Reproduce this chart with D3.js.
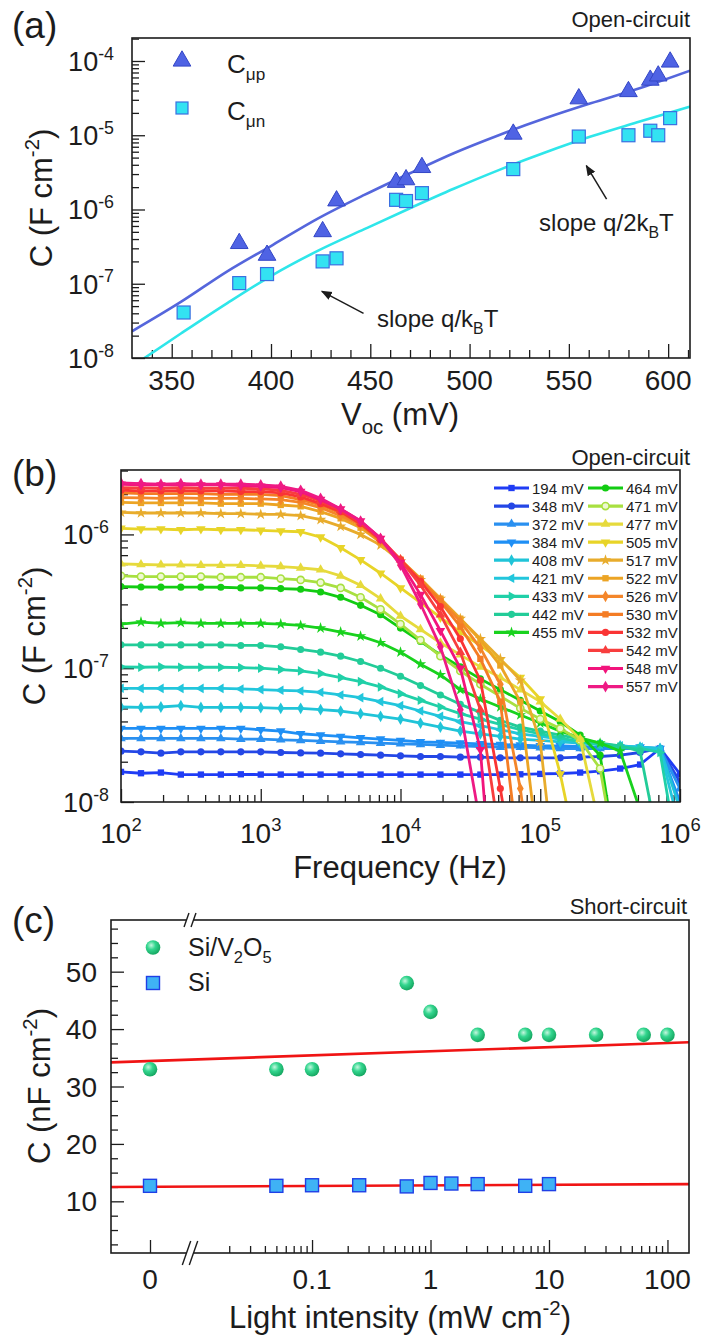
<!DOCTYPE html>
<html>
<head>
<meta charset="utf-8">
<script src="https://cdn.jsdelivr.net/npm/d3@7"></script>
<style>
  body { margin: 0; background: #fff; }
  svg { display: block; }
  text { font-family: "Liberation Sans", Arial, Helvetica, sans-serif; }
</style>
</head>
<body>
<svg id="fig" width="706" height="1340"></svg>
<script>
// ---------- panel (a): capacitance vs Voc ----------
const vocP = [384, 398, 426, 433, 463, 468, 476, 522, 555, 580, 591, 595, 601];
const capP = [3.6e-7, 2.5e-7, 5.2e-7, 1.35e-6, 2.4e-6, 2.6e-6, 3.8e-6, 1.07e-5, 3.2e-5, 4.0e-5, 5.7e-5, 6.5e-5, 1.0e-4];
const vocN = [356, 384, 398, 426, 433, 463, 468, 476, 522, 555, 580, 591, 595, 601];
const capN = [4.1e-8, 1.02e-7, 1.35e-7, 2.0e-7, 2.2e-7, 1.35e-6, 1.3e-6, 1.66e-6, 3.5e-6, 9.6e-6, 1.0e-5, 1.15e-5, 1.0e-5, 1.7e-5];
const fitVoc = [330, 355, 378, 401, 424, 447, 470, 492, 515, 538, 561, 584, 611];
const fitP = [2.29e-8, 5.78e-8, 1.47e-7, 3.35e-7, 7.64e-7, 1.57e-6, 3.08e-6, 5.73e-6, 1.01e-5, 1.69e-5, 2.69e-5, 4.16e-5, 7.41e-5];
const fitN = [7.7e-9, 2.17e-8, 5.49e-8, 1.32e-7, 2.81e-7, 5.43e-7, 1.04e-6, 1.90e-6, 3.42e-6, 5.85e-6, 9.59e-6, 1.48e-5, 2.43e-5];
const vocTicks = [350, 400, 450, 500, 550, 600];
const capTicksA = [-8, -7, -6, -5, -4];

// ---------- panel (b): capacitance spectra ----------
const freq = [100, 139, 193, 268, 373, 518, 720, 1000, 1390, 1930, 2680, 3730, 5180, 7200,
  10000, 13900, 19300, 26800, 37300, 51800, 72000, 100000, 139000, 193000, 268000, 373000,
  518000, 720000, 1000000];
const voltages = [194, 348, 372, 384, 408, 421, 433, 442, 455, 464, 471, 477, 505, 517, 522, 526, 530, 532, 542, 548, 557];
const colors = ["#1f3cf5", "#2447e6", "#2a90f0", "#1f8ff5", "#20c4d8", "#22c6dc", "#20d0a8", "#22cc98",
  "#19d21e", "#12cc12", "#a8e040", "#e6da3c", "#e8d428", "#e8ac2c", "#eca424", "#f4862a", "#f47c24",
  "#fa3434", "#f83e3e", "#f2147c", "#ee1a84"];
const shapes = ["square", "circle", "up", "down", "diamond", "left", "right", "circle", "star",
  "circle", "half", "up", "down", "star", "square", "diamond", "square", "circle", "up", "down", "diamond"];
// log10 of C (F cm-2) read at each frequency
const logCap = [
  [-7.775, -7.785, -7.78, -7.795, -7.795, -7.795, -7.793,
   -7.795, -7.795, -7.795, -7.795, -7.795, -7.795, -7.795,
   -7.795, -7.795, -7.795, -7.795, -7.795, -7.795, -7.793,
   -7.79, -7.787, -7.78, -7.77, -7.75, -7.72, -7.6,
   -7.79],
  [-7.62, -7.625, -7.635, -7.625, -7.625, -7.625, -7.625,
   -7.625, -7.63, -7.633, -7.635, -7.64, -7.645, -7.65,
   -7.655, -7.66, -7.66, -7.665, -7.665, -7.67, -7.67,
   -7.67, -7.67, -7.665, -7.66, -7.65, -7.63, -7.6,
   -7.85],
  [-7.525, -7.525, -7.525, -7.525, -7.525, -7.525, -7.53,
   -7.53, -7.535, -7.54, -7.545, -7.55, -7.555, -7.56,
   -7.565, -7.57, -7.575, -7.58, -7.585, -7.59, -7.59,
   -7.595, -7.6, -7.6, -7.6, -7.6, -7.6, -7.6,
   -7.9],
  [-7.45, -7.45, -7.45, -7.45, -7.45, -7.45, -7.45,
   -7.46, -7.47, -7.49, -7.5, -7.51, -7.52, -7.53,
   -7.54, -7.55, -7.555, -7.56, -7.565, -7.57, -7.575,
   -7.58, -7.58, -7.585, -7.59, -7.59, -7.59, -7.6,
   -8.0],
  [-7.29, -7.293, -7.29, -7.28, -7.293, -7.293, -7.293,
   -7.295, -7.3, -7.3, -7.31, -7.32, -7.34, -7.36,
   -7.38, -7.41, -7.44, -7.47, -7.49, -7.51, -7.53,
   -7.54, -7.55, -7.56, -7.57, -7.58, -7.59, -7.6,
   -8.05],
  [-7.15, -7.151, -7.151, -7.151, -7.151, -7.151, -7.155,
   -7.16, -7.165, -7.17, -7.18, -7.2, -7.22, -7.25,
   -7.28, -7.32, -7.36, -7.4, -7.43, -7.46, -7.49,
   -7.51, -7.53, -7.55, -7.57, -7.58, -7.59, -7.61,
   -8.2],
  [-6.99, -6.993, -6.99, -6.993, -6.993, -6.993, -6.995,
   -7.0, -7.01, -7.02, -7.04, -7.07, -7.1, -7.14,
   -7.19, -7.24, -7.29, -7.34, -7.38, -7.42, -7.46,
   -7.49, -7.52, -7.55, -7.57, -7.59, -7.6, -7.63,
   -8.5],
  [-6.825, -6.826, -6.826, -6.826, -6.826, -6.826, -6.83,
   -6.83, -6.84, -6.86, -6.88, -6.91, -6.95, -7.0,
   -7.06, -7.13, -7.2, -7.27, -7.33, -7.39, -7.44,
   -7.47, -7.5, -7.53, -7.56, -7.58, -7.62, -8.38],
  [-6.67, -6.655, -6.665, -6.66, -6.665, -6.665, -6.665,
   -6.665, -6.67, -6.68, -6.7, -6.73, -6.76, -6.81,
   -6.88, -6.97, -7.05, -7.16, -7.23, -7.29, -7.35,
   -7.41, -7.47, -7.52, -7.56, -7.62, -8.06],
  [-6.39, -6.393, -6.394, -6.394, -6.394, -6.395, -6.4,
   -6.4, -6.405, -6.41, -6.43, -6.47, -6.53, -6.6,
   -6.7, -6.8, -6.9, -6.99, -7.08, -7.16, -7.24,
   -7.32, -7.4, -7.5, -7.65, -8.6],
  [-6.31, -6.315, -6.315, -6.315, -6.315, -6.32, -6.32,
   -6.32, -6.33, -6.34, -6.36, -6.4, -6.47, -6.56,
   -6.67, -6.79, -6.91, -7.02, -7.12, -7.21, -7.3,
   -7.38, -7.45, -7.54, -7.75, -8.6],
  [-6.22, -6.225, -6.227, -6.227, -6.23, -6.23, -6.23,
   -6.235, -6.24, -6.25, -6.264, -6.31, -6.38, -6.48,
   -6.61, -6.71, -6.81, -6.9, -6.99, -7.07, -7.16,
   -7.25, -7.38, -7.53, -8.2],
  [-5.955, -5.96, -5.96, -5.965, -5.96, -5.965, -5.965,
   -5.97, -5.975, -5.98, -6.02, -6.1, -6.19, -6.29,
   -6.4, -6.51, -6.62, -6.73, -6.83, -6.94, -7.07,
   -7.23, -7.79, -8.5],
  [-5.835, -5.84, -5.84, -5.84, -5.84, -5.845, -5.845,
   -5.85, -5.85, -5.86, -5.89, -5.94, -6.0, -6.08,
   -6.2, -6.34, -6.48, -6.63, -6.78, -6.93, -7.09,
   -7.55, -8.9],
  [-5.76, -5.765, -5.765, -5.765, -5.765, -5.77, -5.77,
   -5.77, -5.78, -5.79, -5.83, -5.88, -5.95, -6.06,
   -6.19, -6.33, -6.48, -6.63, -6.79, -6.98, -7.25,
   -8.5],
  [-5.725, -5.727, -5.73, -5.727, -5.73, -5.73, -5.73,
   -5.735, -5.74, -5.76, -5.8, -5.86, -5.93, -6.05,
   -6.19, -6.34, -6.49, -6.65, -6.85, -7.12, -7.9,
   -9.0],
  [-5.69, -5.695, -5.695, -5.695, -5.695, -5.7, -5.7,
   -5.7, -5.71, -5.74, -5.78, -5.84, -5.92, -6.05,
   -6.19, -6.34, -6.5, -6.69, -6.93, -7.25, -8.5],
  [-5.67, -5.675, -5.675, -5.673, -5.675, -5.675, -5.68,
   -5.68, -5.69, -5.72, -5.77, -5.83, -5.92, -6.04,
   -6.19, -6.35, -6.54, -6.78, -7.09, -7.9, -8.8],
  [-5.65, -5.652, -5.655, -5.65, -5.655, -5.655, -5.655,
   -5.66, -5.67, -5.7, -5.75, -5.82, -5.91, -6.03,
   -6.19, -6.38, -6.6, -6.88, -7.31, -8.3],
  [-5.625, -5.63, -5.63, -5.63, -5.63, -5.63, -5.635,
   -5.64, -5.65, -5.68, -5.74, -5.81, -5.9, -6.03,
   -6.21, -6.45, -6.72, -7.0, -7.61, -9.5],
  [-5.615, -5.62, -5.625, -5.62, -5.625, -5.625, -5.625,
   -5.63, -5.64, -5.67, -5.73, -5.81, -5.9, -6.03,
   -6.23, -6.52, -6.84, -7.31, -8.17]
];
const freqTicks = [2, 3, 4, 5, 6];
const capTicksB = [-8, -7, -6];

// ---------- panel (c): short-circuit capacitance ----------
const lightV2O5 = [0, 0.05, 0.1, 0.25, 0.63, 1, 2.5, 6.3, 10, 25, 63, 100];
const capV2O5 = [33, 33, 33, 33, 48, 43, 39, 39, 39, 39, 39, 39];
const lightSi = [0, 0.05, 0.1, 0.25, 0.63, 1, 1.5, 2.5, 6.3, 10];
const capSi = [12.7, 12.7, 12.8, 12.8, 12.6, 13.2, 13.1, 13.0, 12.7, 13.0];
const fitV2O5 = [34.2, 37.7];   // fit value at left and right edge
const fitSi = [12.5, 13.0];
const lightTicks = [0.1, 1, 10, 100];
const lightLabels = ["0.1", "1", "10", "100"];
const capTicksC = [10, 20, 30, 40, 50];

// ---------------------------------------------------------
const ink = "#1c1c1c";
const svg = d3.select("#fig");
const defs = svg.append("defs");

function rich(g, x, y, size, parts, anchor, rot) {
  const t = g.append("text")
    .attr("x", x).attr("y", y)
    .attr("font-size", size)
    .attr("text-anchor", anchor || "start")
    .attr("fill", ink);
  if (rot) t.attr("transform", `rotate(${rot},${x},${y})`);
  let cur = 0;
  parts.forEach(([s, kind]) => {
    const off = kind === "sup" ? -0.42 * size : kind === "sub" ? 0.28 * size : 0;
    t.append("tspan")
      .attr("dy", off - cur)
      .attr("font-size", kind ? size * 0.66 : size)
      .text(s);
    cur = off;
  });
  return t;
}

function ticksBottom(g, scale, y, values, len) {
  g.append("g")
    .attr("transform", `translate(0,${y})`)
    .call(d3.axisBottom(scale).tickValues(values).tickSize(-len).tickFormat(""))
    .call((s) => s.select(".domain").remove())
    .selectAll("line").attr("stroke", ink).attr("stroke-width", 1.3);
}

function ticksLeft(g, scale, x, values, len) {
  g.append("g")
    .attr("transform", `translate(${x},0)`)
    .call(d3.axisLeft(scale).tickValues(values).tickSize(-len).tickFormat(""))
    .call((s) => s.select(".domain").remove())
    .selectAll("line").attr("stroke", ink).attr("stroke-width", 1.3);
}

function frame(g, x, y) {
  g.append("rect")
    .attr("x", x.range()[0]).attr("y", y.range()[1])
    .attr("width", x.range()[1] - x.range()[0])
    .attr("height", y.range()[0] - y.range()[1])
    .attr("fill", "none").attr("stroke", ink).attr("stroke-width", 1.6);
}

function clip(id, x0, x1, y0, y1) {
  defs.append("clipPath").attr("id", id)
    .append("rect").attr("x", x0).attr("y", y0).attr("width", x1 - x0).attr("height", y1 - y0);
}

function logMinors(lo, hi) {
  const out = [];
  for (let e = Math.floor(Math.log10(lo)); e <= Math.ceil(Math.log10(hi)); e++) {
    for (let m = 2; m <= 9; m++) {
      const v = m * Math.pow(10, e);
      if (v >= lo && v <= hi) out.push(v);
    }
  }
  return out;
}

defs.append("marker").attr("id", "arrowHead")
  .attr("viewBox", "0 0 10 10").attr("refX", 9).attr("refY", 5)
  .attr("markerWidth", 11).attr("markerHeight", 11)
  .attr("markerUnits", "userSpaceOnUse").attr("orient", "auto")
  .append("path").attr("d", "M0,1 L10,5 L0,9 Z").attr("fill", ink);

const sphere = defs.append("radialGradient").attr("id", "sphere")
  .attr("cx", "38%").attr("cy", "35%").attr("r", "65%");
sphere.append("stop").attr("offset", "0%").attr("stop-color", "#c4f7de");
sphere.append("stop").attr("offset", "45%").attr("stop-color", "#34d68f");
sphere.append("stop").attr("offset", "100%").attr("stop-color", "#16a862");

// ================= (a) =================
const ax = d3.scaleLinear().domain([330, 611]).range([132, 690]);
const ay = d3.scaleLog().domain([1e-8, 2.04e-4]).range([358, 38]);
const ga = svg.append("g");
clip("clipA", 132, 690, 38, 358);

ticksBottom(ga, ax, 358, d3.range(340, 611, 10).filter((v) => v % 50 !== 0), 8);
ticksBottom(ga, ax, 358, vocTicks, 14);
ticksLeft(ga, ay, 132, logMinors(1e-8, 2.04e-4), 7);
ticksLeft(ga, ay, 132, capTicksA.map((e) => Math.pow(10, e)), 13);

const plotA = ga.append("g").attr("clip-path", "url(#clipA)");
const fitLine = d3.line().x((d) => ax(d[0])).y((d) => ay(d[1])).curve(d3.curveMonotoneX);
plotA.append("path").datum(d3.zip(fitVoc, fitP)).attr("d", fitLine)
  .attr("fill", "none").attr("stroke", "#5566dc").attr("stroke-width", 2.6);
plotA.append("path").datum(d3.zip(fitVoc, fitN)).attr("d", fitLine)
  .attr("fill", "none").attr("stroke", "#2ee6ea").attr("stroke-width", 2.6);

const triSym = d3.symbol().type(d3.symbolTriangle).size(135);
plotA.selectAll(".tp").data(d3.zip(vocP, capP)).join("path")
  .attr("transform", (d) => `translate(${ax(d[0])},${ay(d[1]) + 1})`)
  .attr("d", triSym).attr("fill", "#4f63e4").attr("stroke", "#3346c6").attr("stroke-width", 1);
plotA.selectAll(".sn").data(d3.zip(vocN, capN)).join("rect")
  .attr("x", (d) => ax(d[0]) - 6.5).attr("y", (d) => ay(d[1]) - 6.5)
  .attr("width", 13).attr("height", 13)
  .attr("fill", "#33e2f2").attr("stroke", "#3a6fe0").attr("stroke-width", 1.2);

// legend (a)
ga.append("path").attr("transform", "translate(182,61)").attr("d", triSym)
  .attr("fill", "#4f63e4").attr("stroke", "#3346c6").attr("stroke-width", 1);
ga.append("rect").attr("x", 176).attr("y", 102).attr("width", 12).attr("height", 12)
  .attr("fill", "#33e2f2").attr("stroke", "#3a6fe0").attr("stroke-width", 1.2);
rich(ga, 227, 73, 26, [["C"], ["\u03bcp", "sub"]]);
rich(ga, 227, 120, 26, [["C"], ["\u03bcn", "sub"]]);

// slope annotations
ga.append("line")
  .attr("x1", ax(446.6)).attr("y1", ay(4.0e-8)).attr("x2", ax(425.6)).attr("y2", ay(7.9e-8))
  .attr("stroke", ink).attr("stroke-width", 1.5).attr("marker-end", "url(#arrowHead)");
ga.append("line")
  .attr("x1", ax(569)).attr("y1", ay(1.38e-6)).attr("x2", ax(558.8)).attr("y2", ay(3.9e-6))
  .attr("stroke", ink).attr("stroke-width", 1.5).attr("marker-end", "url(#arrowHead)");
rich(ga, ax(453.4), ay(2.6e-8), 24, [["slope q/k"], ["B", "sub"], ["T"]]);
rich(ga, ax(535), ay(5.1e-7), 24, [["slope q/2k"], ["B", "sub"], ["T"]]);

frame(ga, ax, ay);
vocTicks.forEach((v) => rich(ga, ax(v), 390, 28, [[String(v)]], "middle"));
capTicksA.forEach((e) => rich(ga, 114, ay(Math.pow(10, e)) + 10, 27, [["10"], [String(e), "sup"]], "end"));
rich(ga, 400, 425, 31, [["V"], ["oc", "sub"], [" (mV)"]], "middle");
rich(ga, 52, 198, 31, [["C (F cm"], ["-2", "sup"], [")"]], "middle", -90);
rich(ga, 12, 38, 37, [["(a)"]]);
rich(ga, 690, 27, 22, [["Open-circuit"]], "end");

// ================= (b) =================
const bx = d3.scaleLog().domain([100, 1e6]).range([121, 680]);
const by = d3.scaleLog().domain([1e-8, 3.03e-6]).range([802, 470]);
const gb = svg.append("g");
clip("clipB", 121, 680, 470, 802);

ticksBottom(gb, bx, 802, logMinors(100, 1e6), 7);
ticksBottom(gb, bx, 802, freqTicks.map((e) => Math.pow(10, e)), 13);
ticksLeft(gb, by, 121, logMinors(1e-8, 3.03e-6), 7);
ticksLeft(gb, by, 121, capTicksB.map((e) => Math.pow(10, e)), 13);

function shapePath(kind, size) {
  const sym = {
    square: d3.symbolSquare, circle: d3.symbolCircle, half: d3.symbolCircle,
    up: d3.symbolTriangle, down: d3.symbolTriangle, left: d3.symbolTriangle,
    right: d3.symbolTriangle, diamond: d3.symbolDiamond, star: d3.symbolStar
  }[kind];
  return d3.symbol().type(sym).size(size)();
}
const rot = { down: 180, left: -90, right: 90 };

function drawMarker(g, kind, color, x, y, size) {
  const p = g.append("path")
    .attr("d", shapePath(kind, size))
    .attr("transform", `translate(${x},${y}) rotate(${rot[kind] || 0})`);
  if (kind === "half") {
    p.attr("fill", "#eef8d2").attr("stroke", color).attr("stroke-width", 1.6);
  } else {
    p.attr("fill", color);
  }
}

const plotB = gb.append("g").attr("clip-path", "url(#clipB)");
const specLine = d3.line().x((d) => bx(d[0])).y((d) => by(Math.pow(10, d[1])));
voltages.forEach((v, i) => {
  const pts = d3.zip(freq.slice(0, logCap[i].length), logCap[i]);
  plotB.append("path").datum(pts).attr("d", specLine)
    .attr("fill", "none").attr("stroke", colors[i]).attr("stroke-width", 2.8)
    .attr("stroke-linejoin", "round");
  pts.forEach((d) => drawMarker(plotB, shapes[i], colors[i], bx(d[0]), by(Math.pow(10, d[1])), 40));
});

// legend (b)
voltages.forEach((v, i) => {
  const col = i < 9 ? 0 : 1;
  const row = col === 0 ? i : i - 9;
  const x0 = col === 0 ? 494 : 588;
  const y0 = 488 + row * 18.05;
  gb.append("line").attr("x1", x0).attr("x2", x0 + 35).attr("y1", y0).attr("y2", y0)
    .attr("stroke", colors[i]).attr("stroke-width", 3.2);
  drawMarker(gb, shapes[i], colors[i], x0 + 17.5, y0, 40);
  rich(gb, x0 + 38, y0 + 5.5, 15, [[v + " mV"]]);
});

frame(gb, bx, by);
freqTicks.forEach((e) => rich(gb, bx(Math.pow(10, e)), 843, 28, [["10"], [String(e), "sup"]], "middle"));
capTicksB.forEach((e) => rich(gb, 109, by(Math.pow(10, e)) + 10, 27, [["10"], [String(e), "sup"]], "end"));
rich(gb, 400, 878, 31, [["Frequency (Hz)"]], "middle");
rich(gb, 45, 636, 31, [["C (F cm"], ["-2", "sup"], [")"]], "middle", -90);
rich(gb, 12, 486, 37, [["(b)"]]);
rich(gb, 690, 465, 22, [["Open-circuit"]], "end");

// ================= (c) =================
const cxZero = d3.scaleLinear().domain([-1, 1]).range([111, 189]);
const cxLog = d3.scaleLog().domain([0.00933, 152]).range([190, 689]);
const cx = (v) => (v === 0 ? cxZero(0) : cxLog(v));
const cy = d3.scaleLinear().domain([1, 59]).range([1253, 920]);
const gc = svg.append("g");
clip("clipC", 111, 689, 920, 1253);

ticksBottom(gc, cxLog, 1253, logMinors(0.02, 100), 7);
ticksBottom(gc, cxLog, 1253, lightTicks, 13);
ticksBottom(gc, cxZero, 1253, [0], 13);
ticksLeft(gc, cy, 111, d3.range(2.5, 59, 2.5).filter((v) => v % 10 !== 0), 7);
ticksLeft(gc, cy, 111, capTicksC, 13);

const plotC = gc.append("g").attr("clip-path", "url(#clipC)");
[fitV2O5, fitSi].forEach((f) => {
  plotC.append("line")
    .attr("x1", 111).attr("x2", 689)
    .attr("y1", cy(f[0])).attr("y2", cy(f[1]))
    .attr("stroke", "#f01414").attr("stroke-width", 2.6);
});
plotC.selectAll(".v2o5").data(d3.zip(lightV2O5, capV2O5)).join("circle")
  .attr("cx", (d) => cx(d[0])).attr("cy", (d) => cy(d[1])).attr("r", 7.3)
  .attr("fill", "url(#sphere)");
plotC.selectAll(".si").data(d3.zip(lightSi, capSi)).join("rect")
  .attr("x", (d) => cx(d[0]) - 6.5).attr("y", (d) => cy(d[1]) - 6.5)
  .attr("width", 13).attr("height", 13)
  .attr("fill", "#3fb2f5").attr("stroke", "#1f3fe6").attr("stroke-width", 1.4);

frame(gc, cxLog.copy().range([111, 689]), cy);

// axis break marks
function breakMark(y, h) {
  const bxm = 190;
  gc.append("rect").attr("x", bxm - 3.5).attr("y", y - 2).attr("width", 7).attr("height", 4).attr("fill", "#fff");
  [-3.5, 3.5].forEach((o) => {
    gc.append("line")
      .attr("x1", bxm + o - h * 0.35).attr("y1", y + h)
      .attr("x2", bxm + o + h * 0.35).attr("y2", y - h)
      .attr("stroke", ink).attr("stroke-width", 1.4);
  });
}
breakMark(920, 7);
breakMark(1253, 12);

// legend (c)
gc.append("circle").attr("cx", 153).attr("cy", 947.5).attr("r", 7.3).attr("fill", "url(#sphere)");
gc.append("rect").attr("x", 146.5).attr("y", 976.5).attr("width", 13).attr("height", 13)
  .attr("fill", "#3fb2f5").attr("stroke", "#1f3fe6").attr("stroke-width", 1.4);
rich(gc, 188, 956, 25, [["Si/V"], ["2", "sub"], ["O"], ["5", "sub"]]);
rich(gc, 188, 991, 25, [["Si"]]);

rich(gc, cx(0), 1289, 28, [["0"]], "middle");
lightTicks.forEach((v, i) => rich(gc, cxLog(v), 1289, 28, [[lightLabels[i]]], "middle"));
capTicksC.forEach((v) => rich(gc, 97, cy(v) + 10, 28, [[String(v)]], "end"));
rich(gc, 400, 1328, 31, [["Light intensity (mW cm"], ["-2", "sup"], [")"]], "middle");
rich(gc, 50, 1086, 31, [["C (nF cm"], ["-2", "sup"], [")"]], "middle", -90);
rich(gc, 12, 933, 37, [["(c)"]]);
rich(gc, 687, 914, 22, [["Short-circuit"]], "end");
</script>
</body>
</html>
